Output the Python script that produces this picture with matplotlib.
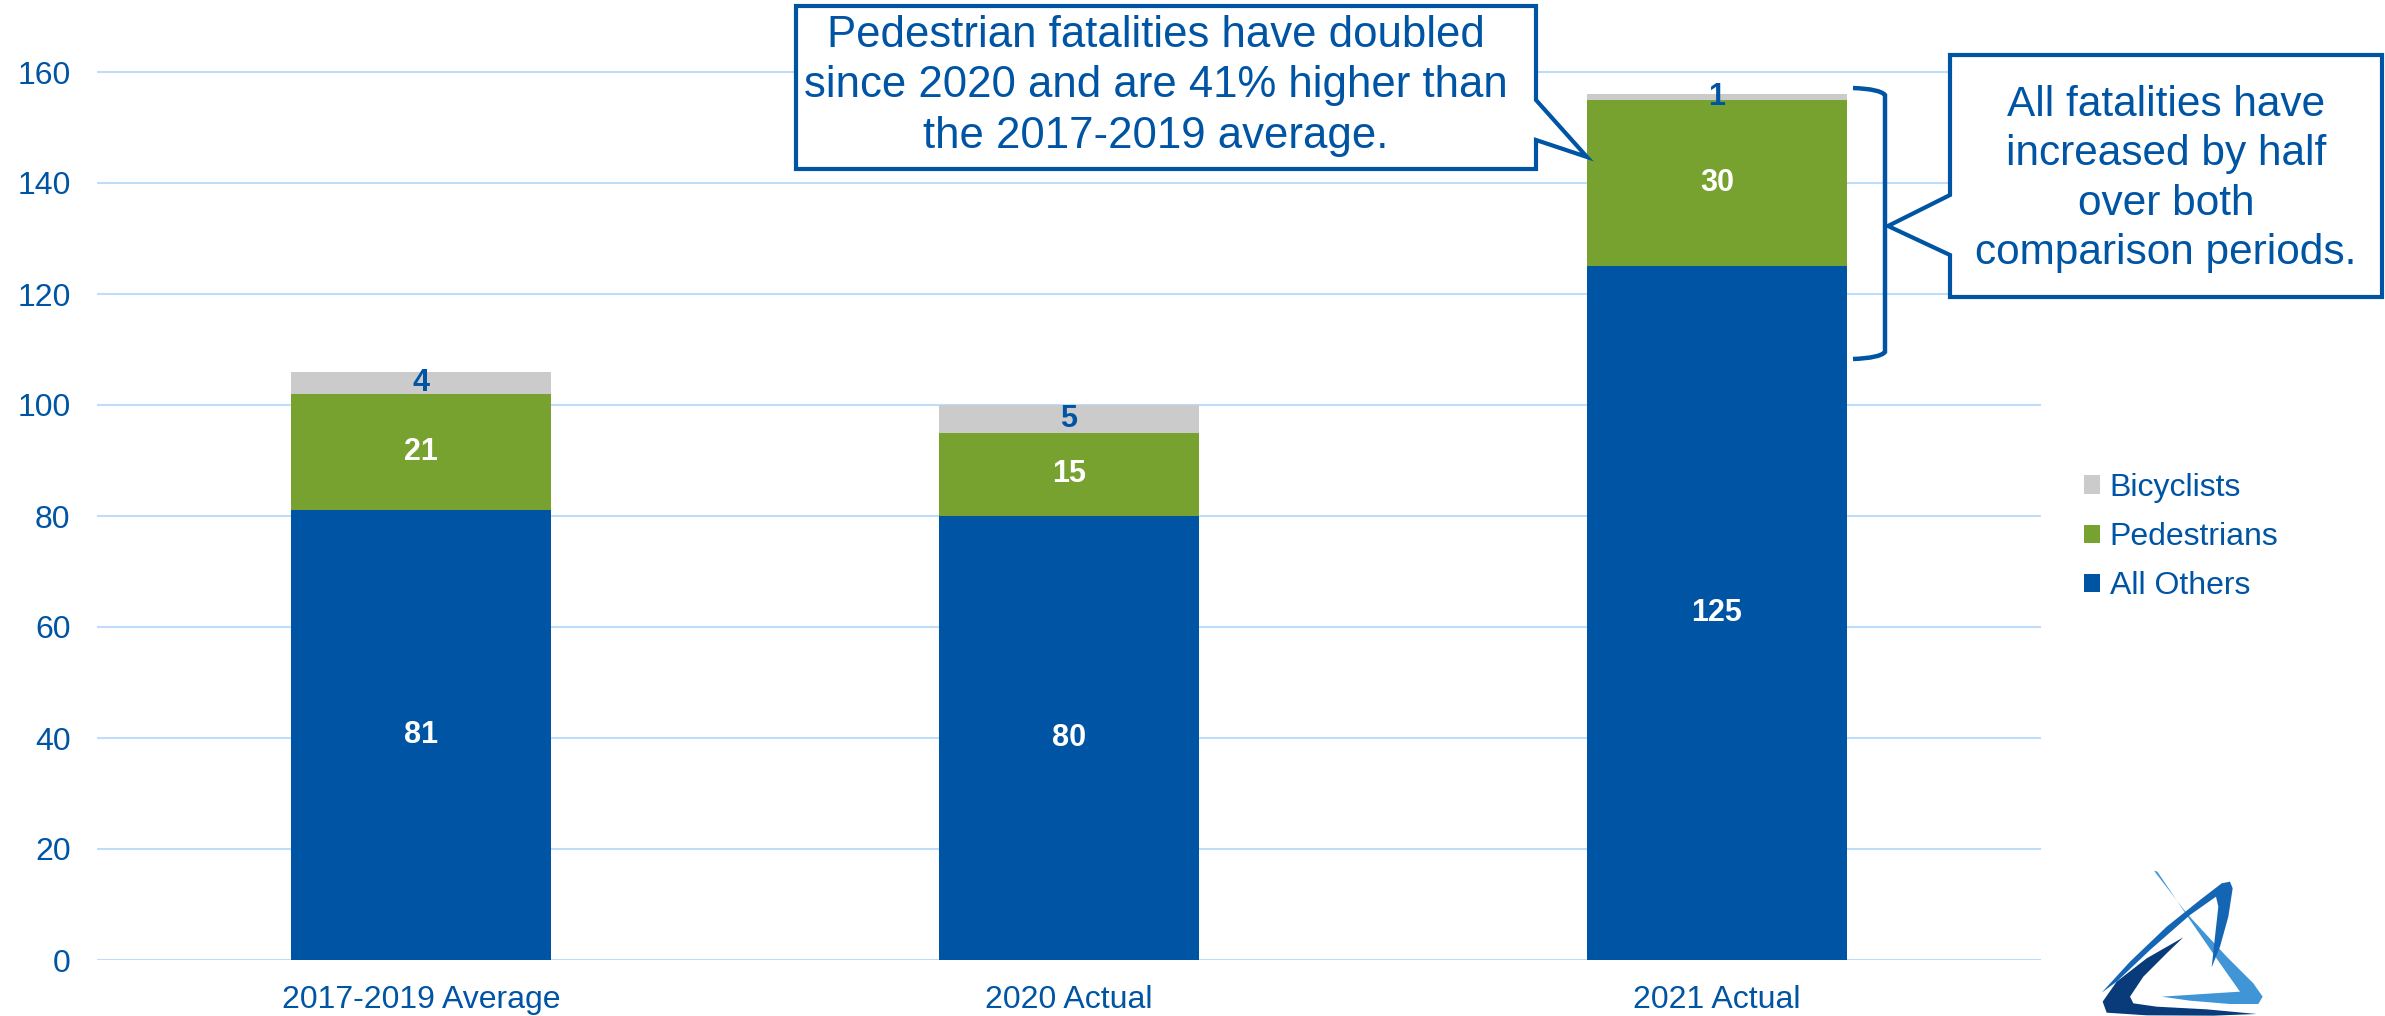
import matplotlib
matplotlib.use("Agg")
import matplotlib.pyplot as plt
from matplotlib.patches import Polygon, PathPatch
from matplotlib.path import Path

plt.rcParams['font.family'] = ['Liberation Sans', 'DejaVu Sans']

categories = ["2017-2019 Average", "2020 Actual", "2021 Actual"]
all_others = [81, 80, 125]
pedestrians = [21, 15, 30]
bicyclists = [4, 5, 1]
yticks = [0, 20, 40, 60, 80, 100, 120, 140, 160]

BLUE = "#0054A4"
GREEN = "#78A22F"
GRAY = "#CBCBCB"
GRID = "#BFDDF8"
TEXT = "#0054A4"

W, H = 2385, 1016
fig = plt.figure(figsize=(W / 100, H / 100), dpi=100)

def fx(x):
    return x / W

def fy(y):
    return 1 - y / H

ymax = 172
ppu = 888 / 160.0
ax = fig.add_axes([fx(97), fy(960), fx(2041) - fx(97), ymax * ppu / H])

x = list(range(len(categories)))
width = 0.4
b1 = ax.bar(x, all_others, width, color=BLUE, label="All Others", zorder=2)
bottom2 = all_others
b2 = ax.bar(x, pedestrians, width, bottom=bottom2, color=GREEN, label="Pedestrians", zorder=2)
bottom3 = [a + p for a, p in zip(all_others, pedestrians)]
b3 = ax.bar(x, bicyclists, width, bottom=bottom3, color=GRAY, label="Bicyclists", zorder=2)

ax.bar_label(b1, labels=[str(v) for v in all_others], label_type='center',
             color='white', fontsize=22, fontweight='bold')
ax.bar_label(b2, labels=[str(v) for v in pedestrians], label_type='center',
             color='white', fontsize=22, fontweight='bold')
ax.bar_label(b3, labels=[str(v) for v in bicyclists], label_type='center',
             color=TEXT, fontsize=22, fontweight='bold')

ax.set_xlim(-0.5, len(categories) - 0.5)
ax.set_ylim(0, ymax)
ax.set_yticks(yticks)
ax.set_xticks(x)
ax.set_xticklabels(categories)
ax.tick_params(axis='both', length=0, labelsize=23, labelcolor=TEXT)
ax.tick_params(axis='y', pad=19)
ax.tick_params(axis='x', pad=18)
for s in ax.spines.values():
    s.set_visible(False)
ax.yaxis.grid(True, color=GRID, linewidth=1.5, zorder=0)
ax.set_axisbelow(True)

handles = [b3, b2, b1]
fig.legend(handles, ["Bicyclists", "Pedestrians", "All Others"],
           loc='center left', bbox_to_anchor=(fx(2084), fy(537)),
           frameon=False, fontsize=23, labelcolor=TEXT,
           handlelength=0.5, handleheight=0.5, handletextpad=0.3,
           labelspacing=0.6, borderpad=0, borderaxespad=0)

# Left callout
left_pts = [(796, 6), (1536, 6), (1536, 100), (1587, 157), (1536, 140),
            (1536, 169), (796, 169)]
fig.add_artist(Polygon([(fx(a), fy(b)) for a, b in left_pts], closed=True,
                       transform=fig.transFigure, facecolor='white',
                       edgecolor=BLUE, linewidth=3, zorder=5))
fig.text(fx(1156), fy(86), "Pedestrian fatalities have doubled\nsince 2020 and are 41% higher than\nthe 2017-2019 average.",
         ha='center', va='center', multialignment='center', fontsize=31.5,
         color=TEXT, linespacing=1.3, zorder=6)

# Right callout
right_pts = [(1950, 55), (2382, 55), (2382, 297), (1950, 297), (1950, 255),
             (1888, 226), (1950, 195)]
fig.add_artist(Polygon([(fx(a), fy(b)) for a, b in right_pts], closed=True,
                       transform=fig.transFigure, facecolor='white',
                       edgecolor=BLUE, linewidth=3, zorder=5))
fig.text(fx(2166), fy(179), "All fatalities have\nincreased by half\nover both\ncomparison periods.",
         ha='center', va='center', multialignment='center', fontsize=30.5,
         color=TEXT, linespacing=1.31, zorder=6)

# Bracket
br = [(1853, 88), (1880, 89), (1885, 95), (1885, 352), (1880, 358), (1853, 359)]
codes = [Path.MOVETO, Path.CURVE3, Path.CURVE3, Path.LINETO, Path.CURVE3, Path.CURVE3]
fig.add_artist(PathPatch(Path([(fx(a), fy(b)) for a, b in br], codes),
                         transform=fig.transFigure, facecolor='none',
                         edgecolor=BLUE, linewidth=3.2, zorder=5))

# Logo (approximate)
def zp(pts):
    return [(fx(2080 + a / 3), fy(850 + b / 3)) for a, b in pts]

light = [(222, 62), (320, 190), (440, 320), (520, 400), (548, 440), (535, 462),
         (450, 462), (330, 452), (245, 440), (400, 430), (480, 425), (420, 340),
         (330, 210), (232, 65)]
mid = [(65, 428), (150, 335), (260, 230), (360, 150), (425, 100), (450, 95),
       (458, 115), (445, 200), (420, 290), (395, 352), (405, 260), (415, 170),
       (408, 140), (330, 195), (210, 300), (110, 395)]
dark = [(310, 262), (200, 325), (110, 395), (68, 455), (80, 488), (200, 496),
        (400, 497), (530, 492), (380, 478), (230, 470), (160, 460), (150, 440),
        (190, 380), (260, 310)]
for pts, c in [(light, "#3F95D5"), (mid, "#1565B5"), (dark, "#093A7A")]:
    fig.add_artist(Polygon(zp(pts), closed=True, transform=fig.transFigure,
                           facecolor=c, edgecolor='none', zorder=4))

fig.savefig("out.png", dpi=100)
